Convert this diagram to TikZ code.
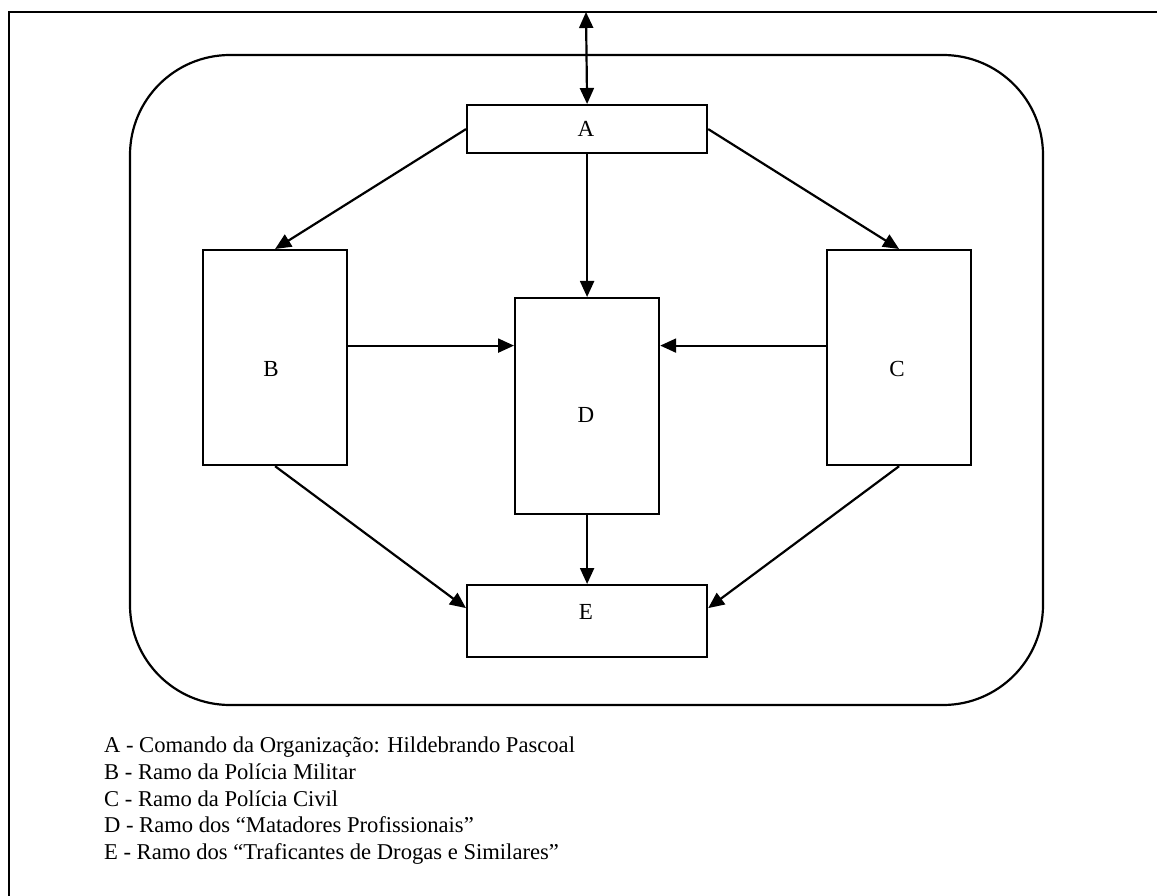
\documentclass[tikz,border=0pt]{standalone}
\usepackage{fontspec}
\setmainfont{Liberation Serif}
\usetikzlibrary{arrows.meta}
\begin{document}
\begin{tikzpicture}[x=1pt,y=-1pt,
  line width=2.2pt,
  tip/.tip={Triangle[length=16pt,width=14pt]},
  box/.style={draw,rectangle,inner sep=0pt,anchor=north west},
  letter/.style={inner sep=0pt,anchor=base,font=\fontsize{23}{27}\selectfont},
  legend/.style={inner sep=0pt,anchor=base west,font=\fontsize{22.6}{27}\selectfont},
  conn/.style={-tip}]
\useasboundingbox (0,0) rectangle (1157,896);
% outer frame (open to the right and bottom)
\draw (9,900) -- (9,12) -- (1160,12);
% rounded enclosure
\draw[rounded corners=100pt] (130,55) rectangle (1043,705);
% boxes
\node[box,minimum width=240pt,minimum height=48pt] (A) at (466,104) {};
\node[box,minimum width=144pt,minimum height=215pt] (B) at (202,249) {};
\node[box,minimum width=144pt,minimum height=216pt] (D) at (514,297) {};
\node[box,minimum width=144pt,minimum height=215pt] (C) at (826,249) {};
\node[box,minimum width=240pt,minimum height=72pt] (E) at (466,584) {};
% letters
\node[letter] (lA) at (586,137) {A};
\node[letter] (lB) at (271,376) {B};
\node[letter] (lC) at (897,376) {C};
\node[letter] (lD) at (586,422) {D};
\node[letter] (lE) at (586,619) {E};
% connectors
\coordinate (top) at (586,12);
\draw[tip-tip] (top) -- (A.north);
\draw[conn] (A.west) -- (B.north);
\draw[conn] (A.east) -- (C.north);
\draw[conn] (A.south) -- (D.north);
\draw[conn] ([yshift=12pt]B.east) -- ([yshift=12pt]B.east -| D.west);
\draw[conn] ([yshift=12pt]C.west) -- ([yshift=12pt]C.west -| D.east);
\draw[conn] (B.south) -- ([yshift=13pt]E.west);
\draw[conn] (C.south) -- ([yshift=13pt]E.east);
\draw[conn] (D.south) -- (E.north);
% legend
\node[legend] (k1) at (103,752) {A - Comando da Organização: Hildebrando Pascoal};
\node[legend] (k2) at (103,779) {B - Ramo da Polícia Militar};
\node[legend] (k3) at (103,806) {C - Ramo da Polícia Civil};
\node[legend] (k4) at (103,832) {D - Ramo dos “Matadores Profissionais”};
\node[legend] (k5) at (103,859) {E - Ramo dos “Traficantes de Drogas e Similares”};
\end{tikzpicture}
\end{document}
